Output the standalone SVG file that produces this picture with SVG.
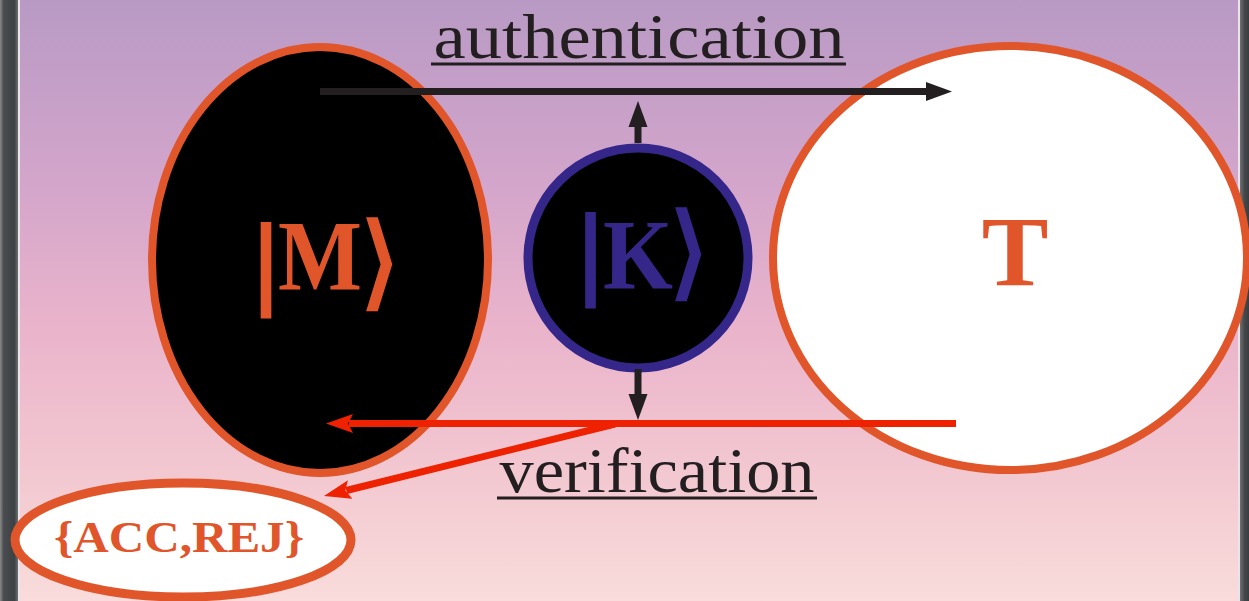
<svg xmlns="http://www.w3.org/2000/svg" width="1249" height="601" viewBox="0 0 1249 601">
  <defs>
    <linearGradient id="bg" x1="0" y1="0" x2="0" y2="1">
      <stop offset="0" stop-color="#b89ac4"/>
      <stop offset="0.3" stop-color="#d3a5cb"/>
      <stop offset="0.55" stop-color="#eab4cb"/>
      <stop offset="0.8" stop-color="#f3c9d1"/>
      <stop offset="1" stop-color="#f9dcdb"/>
    </linearGradient>
    <linearGradient id="frameL" x1="0" y1="0" x2="1" y2="0">
      <stop offset="0" stop-color="#8a8a8a"/>
      <stop offset="0.2" stop-color="#4a4d50"/>
      <stop offset="0.8" stop-color="#3e4144"/>
      <stop offset="1" stop-color="#6e7072"/>
    </linearGradient>
    <linearGradient id="frameR" x1="0" y1="0" x2="1" y2="0">
      <stop offset="0" stop-color="#6e7072"/>
      <stop offset="0.5" stop-color="#45484b"/>
      <stop offset="1" stop-color="#3a3d40"/>
    </linearGradient>
    <!-- arrowheads start where the shaft ends -->
    <marker id="ahDark" viewBox="0 0 26 20" refX="0" refY="10" markerWidth="26" markerHeight="20" markerUnits="userSpaceOnUse" orient="auto">
      <path d="M0,0.5 L26,10 L0,19.5 Z" fill="#231f20"/>
    </marker>
    <marker id="ahRed" viewBox="0 0 27 20" refX="4" refY="10" markerWidth="27" markerHeight="20" markerUnits="userSpaceOnUse" orient="auto">
      <path d="M0,0.5 L27,10 L0,19.5 L5,10 Z" fill="#ee2200"/>
    </marker>
  </defs>
  <style>
    .lbl { font-family: "Liberation Serif", "DejaVu Serif", serif; fill: #231f20; font-size: 64px; }
    .ket { font-family: "Liberation Serif", "DejaVu Serif", serif; font-weight: bold; }
    .bar { font-family: "DejaVu Sans", sans-serif; font-weight: bold; }
    .ang { font-family: "DejaVu Sans", sans-serif; font-weight: normal; }
    .orange { fill: #e0552a; }
    .purple { fill: #35278a; }
    .dark { stroke: #231f20; stroke-width: 7; fill: none; }
    .red { stroke: #ee2200; stroke-width: 7; fill: none; }
    .uline { stroke: #231f20; stroke-width: 3; }
  </style>

  <!-- backdrop and side frame -->
  <rect x="0" y="0" width="1249" height="601" fill="url(#bg)"/>
  <rect x="0" y="0" width="18" height="601" fill="url(#frameL)"/>
  <rect x="18" y="0" width="2" height="601" fill="#e8e4ea"/>
  <rect x="1238" y="0" width="2" height="601" fill="#e8e4ea"/>
  <rect x="1240" y="0" width="9" height="601" fill="url(#frameR)"/>

  <!-- message register: |M> -->
  <g id="node-M">
    <ellipse cx="320" cy="260" rx="168" ry="213" fill="#000" stroke="#e0552a" stroke-width="8"/>
    <text class="orange" text-anchor="middle"><tspan class="bar" x="266" y="295" font-size="96">|</tspan><tspan class="ket" x="320" y="289" font-size="100" textLength="84" lengthAdjust="spacingAndGlyphs">M</tspan><tspan class="ang" x="380" y="296" font-size="102" stroke="#e0552a" stroke-width="3">⟩</tspan></text>
  </g>

  <!-- key register: |K> -->
  <g id="node-K">
    <circle cx="638" cy="258" r="110" fill="#000" stroke="#35278a" stroke-width="9"/>
    <text class="purple" text-anchor="middle"><tspan class="bar" x="590.5" y="285" font-size="96">|</tspan><tspan class="ket" x="638" y="288" font-size="100" textLength="70" lengthAdjust="spacingAndGlyphs">K</tspan><tspan class="ang" x="689" y="286" font-size="102" stroke="#35278a" stroke-width="3">⟩</tspan></text>
  </g>

  <!-- tag -->
  <g id="node-T">
    <ellipse cx="1010" cy="258" rx="237" ry="212" fill="#fff" stroke="#e0552a" stroke-width="8"/>
    <text class="ket orange" x="1015" y="285" font-size="100" text-anchor="middle">T</text>
  </g>

  <!-- outcome -->
  <g id="node-out">
    <ellipse cx="183" cy="540" rx="168" ry="57" fill="#fff" stroke="#e0552a" stroke-width="9"/>
    <text class="ket orange" x="179" y="552" font-size="45" text-anchor="middle" textLength="250" lengthAdjust="spacingAndGlyphs">{ACC,REJ}</text>
  </g>

  <!-- connectors -->
  <g id="connectors">
    <line class="dark" x1="320" y1="91.5" x2="926" y2="91.5" marker-end="url(#ahDark)"/>
    <line class="dark" x1="638" y1="143" x2="638" y2="127" marker-end="url(#ahDark)"/>
    <line class="dark" x1="638" y1="369" x2="638" y2="394" marker-end="url(#ahDark)"/>
    <line class="red" x1="956" y1="423.5" x2="349" y2="423.5" marker-end="url(#ahRed)"/>
    <line class="red" x1="615" y1="424" x2="346.3" y2="490.5" marker-end="url(#ahRed)"/>
  </g>

  <!-- edge labels -->
  <g id="labels">
    <text class="lbl" x="639" y="58" text-anchor="middle" textLength="411" lengthAdjust="spacingAndGlyphs">authentication</text>
    <line class="uline" x1="431" y1="64" x2="846" y2="64"/>
    <text class="lbl" x="657" y="492" text-anchor="middle" textLength="315" lengthAdjust="spacingAndGlyphs">verification</text>
    <line class="uline" x1="497" y1="498" x2="817" y2="498"/>
  </g>
</svg>
